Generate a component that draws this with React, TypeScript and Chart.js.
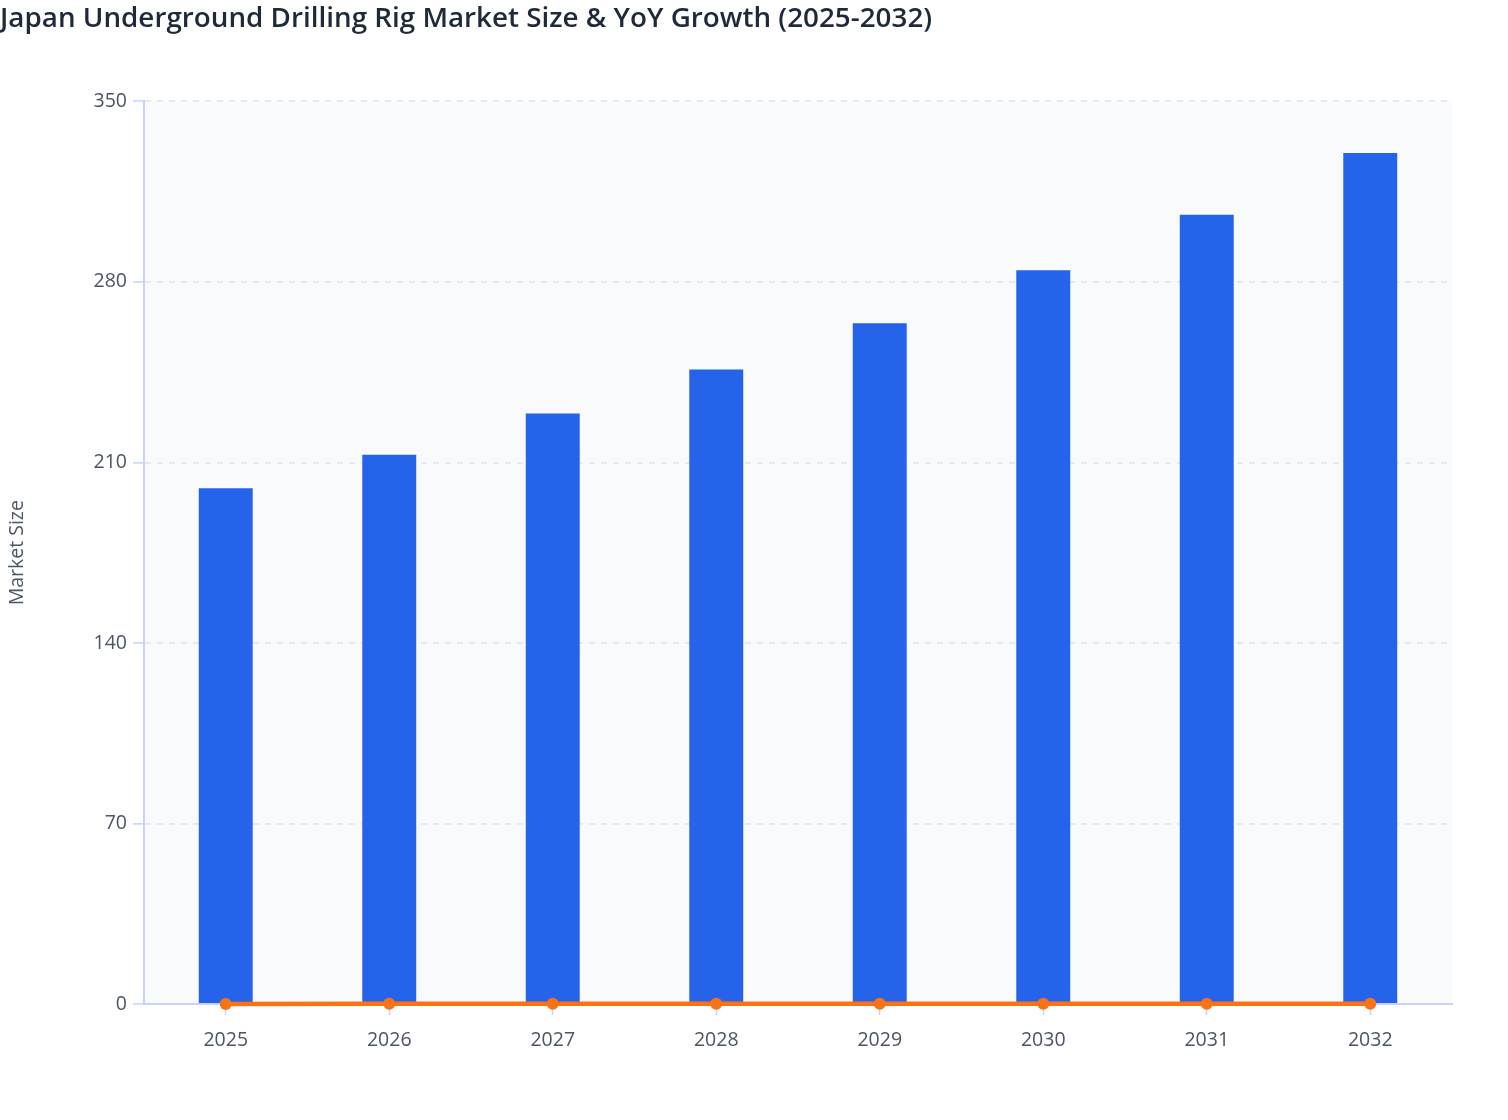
import React, { useEffect, useRef } from "react";
import { Chart, registerables } from "chart.js";

Chart.register(...registerables);

// values
const years = ["2025", "2026", "2027", "2028", "2029", "2030", "2031", "2032"];
const marketSize = [200, 213, 229, 246, 264, 284.5, 306, 330];
const yoyGrowth = [0, 0.065, 0.075, 0.074, 0.073, 0.078, 0.076, 0.078];
const yTicks = [0, 70, 140, 210, 280, 350];

const FONT = "'Open Sans', 'Noto Sans', sans-serif";
const AXIS_COLOR = "#c7d2fe";
const TEXT_COLOR = "#4b5563";

// fill the plot area with a light background
const plotBackground = {
  id: "plotBackground",
  beforeDraw: (chart: any) => {
    const { ctx, chartArea } = chart;
    if (!chartArea) return;
    ctx.save();
    ctx.fillStyle = "#f8fafc";
    ctx.fillRect(
      chartArea.left,
      chartArea.top,
      chartArea.right - chartArea.left,
      chartArea.bottom - chartArea.top,
    );
    ctx.restore();
  },
};

export default function App() {
  const canvasRef = useRef<HTMLCanvasElement | null>(null);

  useEffect(() => {
    document.body.style.margin = "0";
    const ctx = canvasRef.current?.getContext("2d");
    if (!ctx) return;

    const chart = new Chart(ctx, {
      type: "bar",
      data: {
        labels: years,
        datasets: [
          {
            type: "line" as const,
            label: "YoY Growth",
            data: yoyGrowth,
            borderColor: "#f97316",
            backgroundColor: "#f97316",
            borderWidth: 4.5,
            pointRadius: 6,
            pointBorderWidth: 0,
            tension: 0,
            clip: false as any,
            order: 0,
          },
          {
            type: "bar" as const,
            label: "Market Size",
            data: marketSize,
            backgroundColor: "#2563eb",
            borderWidth: 0,
            barPercentage: 0.33,
            categoryPercentage: 1,
            order: 1,
          },
        ],
      },
      options: {
        responsive: true,
        maintainAspectRatio: false,
        animation: false,
        layout: { padding: { left: 0, right: 56, top: 0, bottom: 0 } },
        plugins: {
          legend: { display: false },
          tooltip: { enabled: false },
          title: {
            display: true,
            text: "Japan Underground Drilling Rig Market Size & YoY Growth (2025-2032)",
            align: "start",
            color: "#1e293b",
            font: { family: FONT, size: 27.8, weight: 600 as any },
            padding: { top: 2, bottom: 66 },
          },
        },
        scales: {
          x: {
            offset: true,
            border: { display: true, color: AXIS_COLOR, width: 2 },
            grid: {
              offset: false,
              drawOnChartArea: false,
              drawTicks: true,
              tickLength: 11,
              tickColor: AXIS_COLOR,
              tickWidth: 1.5,
            },
            ticks: {
              color: TEXT_COLOR,
              font: { family: FONT, size: 19.5 },
              padding: 14,
              maxRotation: 0,
            },
            afterFit: (scale: any) => {
              scale.height = 116;
            },
          },
          y: {
            min: 0,
            max: 350,
            afterBuildTicks: (scale: any) => {
              scale.ticks = yTicks.map((v) => ({ value: v }));
            },
            border: { display: true, color: AXIS_COLOR, width: 2, dash: [6, 6] },
            grid: {
              color: "#e2e8f0",
              lineWidth: 1.8,
              tickLength: 11,
              tickColor: AXIS_COLOR,
              tickWidth: 1.5,
              tickBorderDash: [],
            },
            ticks: {
              color: TEXT_COLOR,
              font: { family: FONT, size: 19.5 },
              padding: 6,
            },
            title: {
              display: true,
              text: "Market Size",
              color: TEXT_COLOR,
              font: { family: FONT, size: 19.5 },
              padding: { top: 6, bottom: 0 },
            },
            afterFit: (scale: any) => {
              scale.width = 144;
            },
          },
        },
      },
      plugins: [plotBackground],
    });

    return () => {
      chart.destroy();
    };
  }, []);

  return (
    <div style={{ width: 1508, height: 1120, position: "relative" }}>
      <canvas ref={canvasRef} />
    </div>
  );
}
